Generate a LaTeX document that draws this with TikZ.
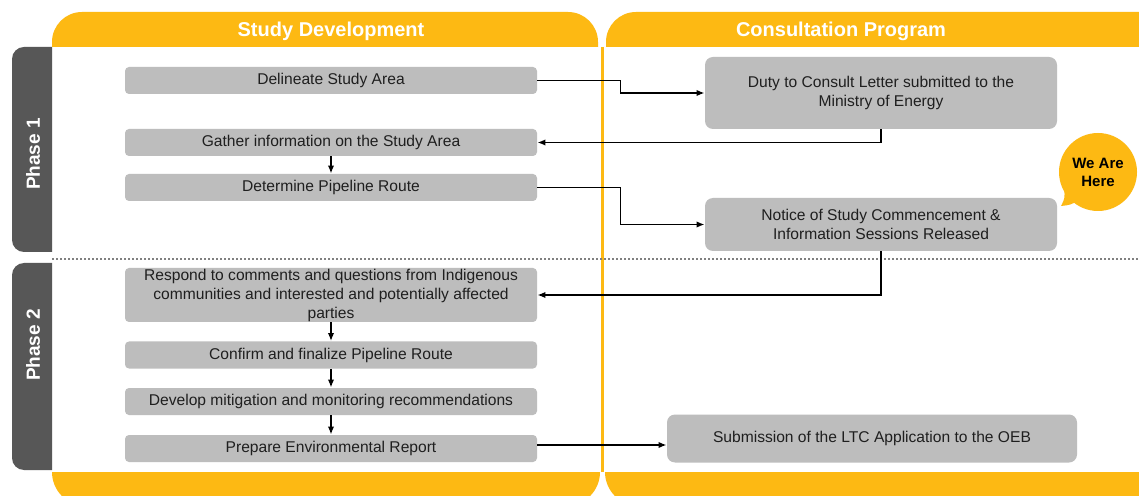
\documentclass[tikz,border=0pt]{standalone}
\usepackage{fontspec}
\setmainfont{Liberation Sans}
\usetikzlibrary{arrows.meta}
\usetikzlibrary{positioning}

\definecolor{tabyellow}{HTML}{FDB913}
\definecolor{boxgray}{HTML}{BDBDBD}
\definecolor{tabgray}{HTML}{575757}
\definecolor{txtgray}{HTML}{1F1F1F}

\begin{document}
\begin{tikzpicture}[x=0.5pt,y=-0.5pt,
	lstep/.style={fill=boxgray,rounded corners=2pt,minimum width=206pt,minimum height=13.5pt,inner sep=0pt,align=center,text=txtgray,font=\fontsize{7.8}{9.5}\selectfont},
	rstep/.style={lstep,rounded corners=4pt,minimum width=176pt},
	headtext/.style={text=white,font=\bfseries\fontsize{10}{12}\selectfont},
	phasetext/.style={text=white,rotate=90,font=\bfseries\fontsize{9.5}{11}\selectfont},
	arr/.style={-{Latex[length=4pt,width=3.2pt]},line width=0.9pt}]
	\clip (0,0) rectangle (1139,496);
	\fill[white] (0,0) rectangle (1139,496);
	
	% column headers and bottom bars
	\begin{scope}
	\clip (0,0) rectangle (1139,47);
	\fill[tabyellow,rounded corners=15pt] (52,12) rectangle (598,90);
	\fill[tabyellow,rounded corners=15pt] (606,12) rectangle (1175,90);
	\end{scope}
	\begin{scope}
	\clip (0,472) rectangle (1139,496);
	\fill[tabyellow,rounded corners=17pt] (52,430) rectangle (600,506);
	\fill[tabyellow,rounded corners=17pt] (605,430) rectangle (1175,506);
	\end{scope}
	\node[headtext] (hstudy) at (331,31) {Study Development};
	\node[headtext] (hconsult) at (841,31) {Consultation Program};
	\draw[tabyellow,line width=1.5pt] (602,47) -- (602,472);
	
	% phase tabs
	\begin{scope}
	\clip (0,0) rectangle (52,496);
	\fill[tabgray,rounded corners=6pt] (12,47) rectangle (80,252);
	\fill[tabgray,rounded corners=6pt] (12,263) rectangle (80,470);
	\end{scope}
	\node[phasetext] (ph1) at (33,154) {Phase 1};
	\node[phasetext] (ph2) at (33,345) {Phase 2};
	\draw[gray,line width=1pt,dash pattern=on 1pt off 1pt] (52,259) -- (1139,259);
	
	% study development steps
	\node[lstep] (delin) at (331,80.5) {Delineate Study Area};
	\node[lstep] (gather) at (331,142.5) {Gather information on the Study Area};
	\node[lstep] (route) at (331,187.5) {Determine Pipeline Route};
	\node[lstep,minimum height=27pt] (respond) at (331,295) {Respond to comments and questions from Indigenous\\communities and interested and potentially affected\\parties};
	\node[lstep] (confirm) at (331,355) {Confirm and finalize Pipeline Route};
	\node[lstep] (develop) at (331,401.5) {Develop mitigation and monitoring recommendations};
	\node[lstep] (prepare) at (331,448.5) {Prepare Environmental Report};
	
	% consultation steps
	\node[rstep,minimum height=36pt] (duty) at (881,93) {Duty to Consult Letter submitted to the\\Ministry of Energy};
	\node[rstep,minimum height=26.5pt] (notice) at (881,224.5) {Notice of Study Commencement \&\\Information Sessions Released};
	\node[rstep,minimum width=205pt,minimum height=24pt] (submit) at (872,438.5) {Submission of the LTC Application to the OEB};
	
	% we are here
	\fill[tabyellow] (1064,188) .. controls (1065,198) .. (1061,206) .. controls (1070,205) .. (1080,200) -- (1098,172) -- cycle;
	\node[circle,fill=tabyellow,minimum size=39pt,inner sep=0pt,align=center,text=black,font=\bfseries\fontsize{7.5}{9}\selectfont] (here) at (1098,172) {We Are\\Here};
	
	% connectors
	\draw[arr] (delin.east) -- +(83,0) |- (duty.west);
	\draw[arr] (duty.south) |- (gather.east);
	\draw[arr] (gather.south) -- (route.north);
	\draw[arr] (route.east) -- +(83,0) |- (notice.west);
	\draw[arr] (notice.south) |- (respond.east);
	\draw[arr] (respond.south) -- (confirm.north);
	\draw[arr] (confirm.south) -- (develop.north);
	\draw[arr] (develop.south) -- (prepare.north);
	\draw[arr] ([yshift=1.75pt]prepare.east) -- ([yshift=1.75pt]prepare.east -| submit.west);
\end{tikzpicture}
\end{document}
